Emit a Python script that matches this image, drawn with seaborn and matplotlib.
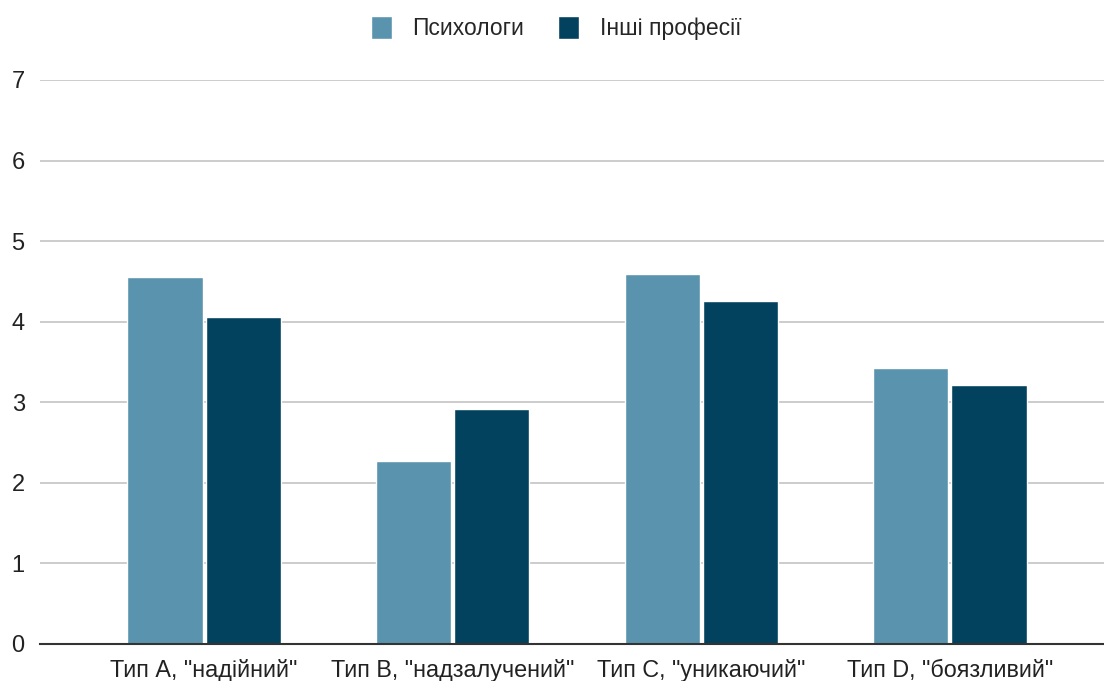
import pandas as pd
import seaborn as sns
import matplotlib.pyplot as plt

categories = ['Тип А, "надійний"', 'Тип В, "надзалучений"', 'Тип С, "уникаючий"', 'Тип D, "боязливий"']
series_names = ["Психологи", "Інші професії"]
psychologists = [4.55, 2.27, 4.59, 3.42]
others = [4.06, 2.92, 4.26, 3.22]
colors = ["#5a93ae", "#03425e"]

df = pd.DataFrame({
    "type": categories * 2,
    "group": [series_names[0]] * 4 + [series_names[1]] * 4,
    "value": psychologists + others,
})

sns.set_style("white")
plt.rcParams["font.family"] = ["Liberation Sans", "DejaVu Sans"]

fig = plt.figure(figsize=(11.04, 6.81), dpi=100)
ax = fig.add_axes([40 / 1104, 37 / 681, 1 - 40 / 1104, (644 - 80) / 681])

sns.barplot(data=df, x="type", y="value", hue="group", palette=colors,
            width=0.63, gap=0.04, saturation=1, ax=ax, legend=True)

ax.set_ylim(0, 7)
ax.set_xlim(-0.66, 3.62)
ax.set_yticks(range(0, 8))
ax.yaxis.grid(True, color="#cccccc", linewidth=1.4)
ax.set_axisbelow(True)
for s in ["top", "right", "left"]:
    ax.spines[s].set_visible(False)
ax.spines["bottom"].set_color("#333333")
ax.spines["bottom"].set_linewidth(1.5)
ax.set_xlabel("")
ax.set_ylabel("")
ax.tick_params(axis="y", length=0, labelsize=17, colors="#222222", pad=11)
ax.tick_params(axis="x", length=0, labelsize=16.8, colors="#222222", pad=11)

handles, labels = ax.get_legend_handles_labels()
ax.legend(handles, labels, loc="center", bbox_to_anchor=(0.5 - 16 / 1064, 1 + 52 / 564),
          ncol=2, frameon=False, fontsize=16.5, handlelength=0.9, handleheight=1.2,
          columnspacing=1.5, handletextpad=0.9)

fig.savefig("out.png", dpi=100)
